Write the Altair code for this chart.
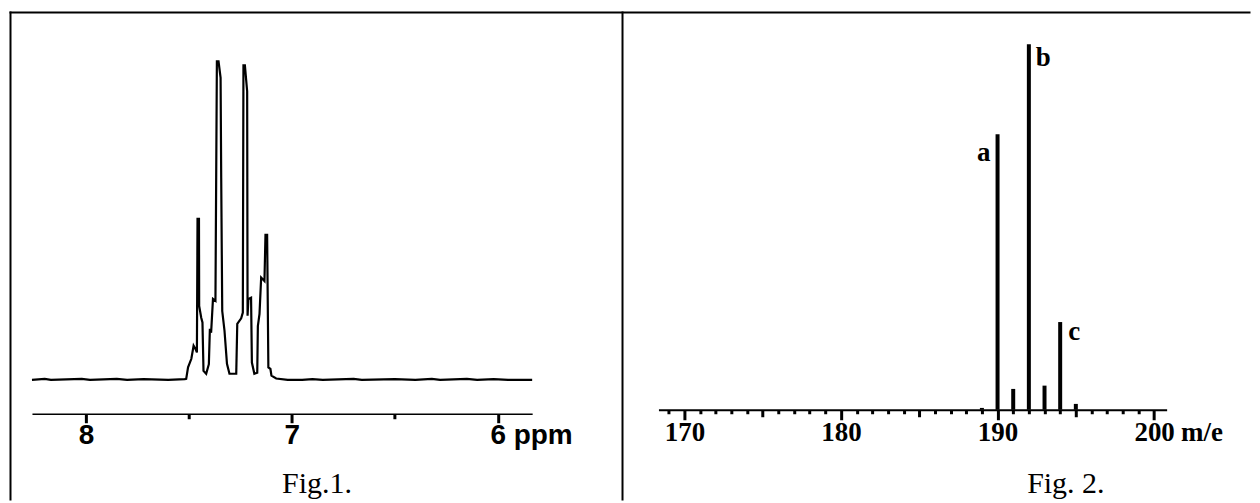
import altair as alt
import pandas as pd

# ---------------- Fig.1 : 1H NMR spectrum (ppm vs relative intensity) ----------------
nmr_ppm = [8.262, 8.20, 8.17, 8.02, 7.98, 7.85, 7.80, 7.72, 7.60, 7.52, 7.513,
           7.504, 7.488, 7.477, 7.468, 7.461, 7.458, 7.451, 7.450, 7.440, 7.434,
           7.429, 7.416, 7.403, 7.398, 7.392, 7.383, 7.371, 7.364, 7.356, 7.346,
           7.343, 7.338, 7.327, 7.315, 7.303, 7.270, 7.265, 7.246, 7.238, 7.235,
           7.228, 7.217, 7.215, 7.211, 7.198, 7.194, 7.182, 7.168, 7.165, 7.157,
           7.149, 7.133, 7.128, 7.120, 7.114, 7.104, 7.099, 7.076, 7.02,
           6.95, 6.90, 6.85, 6.70, 6.66, 6.50, 6.40, 6.32, 6.28, 6.15, 6.10,
           6.02, 5.95, 5.833]
nmr_int = [0.0, 0.3, 0.0, 0.3, 0.0, 0.3, 0.0, 0.2, 0.0, 0.2, 0.3,
           3.9, 6.6, 10.7, 9.7, 8.6, 50.5, 50.5, 23.2, 19.5, 18.0,
           2.8, 1.9, 4.9, 16.0, 14.8, 25.4, 24.8, 100.0, 100.0, 94.8,
           63.4, 21.6, 15.4, 5.0, 1.9, 1.9, 17.6, 19.3, 21.1, 98.7,
           98.7, 90.6, 20.1, 25.4, 25.8, 5.4, 1.9, 2.2, 16.9, 20.7,
           32.1, 31.0, 45.5, 45.5, 3.9, 3.4, 1.3, 0.4, 0.0,
           0.0, 0.2, 0.0, 0.3, 0.0, 0.2, 0.0, 0.3, 0.0, 0.3, 0.0,
           0.2, 0.0, 0.0]
nmr_tick_values = [8, 7.5, 7, 6.5, 6]
nmr_unit = ["ppm"]

# ---------------- Fig.2 : mass spectrum (m/e vs relative abundance) ----------------
ms_mz = [189, 190, 191, 192, 193, 194, 195]
ms_abund = [0.5, 75.4, 5.7, 100.0, 6.6, 24.0, 1.6]
ms_peak_names = ["a", "b", "c"]
ms_peak_mz = [190, 192, 194]
ms_peak_abund = [75.4, 100.0, 24.0]
ms_tick_values = [169, 170, 171, 172, 173, 174, 175, 176, 177, 178, 179, 180,
                  181, 182, 183, 184, 185, 186, 187, 188, 189, 190, 191, 192,
                  193, 194, 195, 196, 197, 198, 199, 200]
ms_unit = ["m/e"]

fig_titles = ["Fig.1.", "Fig. 2."]

# ---------------- layout constants ----------------
W1, H1 = 501, 373
W2, H2 = 509, 369
SANS = "Liberation Sans"
SERIF = "Liberation Serif"

one = pd.DataFrame({"k": [0]})

# ================= Panel 1 =================
nmr_df = pd.DataFrame({"i": list(range(len(nmr_ppm))), "ppm": nmr_ppm, "intensity": nmr_int})
x1 = alt.Scale(domain=[5.833, 8.262], reverse=True, nice=False, zero=False)
y1 = alt.Scale(domain=[-10.66, 106.27], nice=False, zero=False)

axis1 = alt.Axis(
    values=nmr_tick_values, title=None, grid=False,
    labelExpr="datum.value % 1 === 0 ? format(datum.value, 'd') : ''",
    tickSize={"condition": {"test": "datum.value % 1 === 0", "value": 9}, "value": 5},
    tickWidth=3, tickColor="black", domainColor="black", domainWidth=1.5,
    labelFont=SANS, labelFontWeight="bold", labelFontSize=28, labelColor="black",
    labelBaseline="top", labelPadding=-1, labelOverlap=False, labelFlush=False,
)

spec = alt.Chart(nmr_df).mark_line(color="black", strokeWidth=2.2).encode(
    x=alt.X("ppm:Q", scale=x1, axis=axis1),
    y=alt.Y("intensity:Q", scale=y1, axis=None),
    order=alt.Order("i:Q"),
)

unit1 = alt.Chart(pd.DataFrame({"ppm": [nmr_tick_values[-1]], "t": nmr_unit})).mark_text(
    align="left", baseline="top", dx=16, font=SANS, fontWeight="bold", fontSize=28, color="black"
).encode(x=alt.X("ppm:Q", scale=x1, axis=axis1), y=alt.value(H1 + 8), text="t:N")

title1 = alt.Chart(pd.DataFrame({"t": [fig_titles[0]]})).mark_text(
    align="center", baseline="alphabetic", font=SERIF, fontSize=30, color="black"
).encode(x=alt.value(285.5), y=alt.value(452), text="t:N")

frame_left = alt.Chart(one).mark_rule(color="black", strokeWidth=2).encode(
    x=alt.value(-21.5), y=alt.value(-30), y2=alt.value(460))
frame_top = alt.Chart(one).mark_rule(color="black", strokeWidth=2).encode(
    x=alt.value(-22.5), x2=alt.value(1220.5), y=alt.value(-29))
frame_mid = alt.Chart(one).mark_rule(color="black", strokeWidth=2).encode(
    x=alt.value(591.5), y=alt.value(-30), y2=alt.value(460))

panel1 = alt.layer(spec, unit1, title1, frame_left, frame_top, frame_mid).properties(
    width=W1, height=H1)

# ================= Panel 2 =================
ms_df = pd.DataFrame({"mz": ms_mz, "abund": ms_abund})
lab_df = pd.DataFrame({"mz": ms_peak_mz, "abund": ms_peak_abund, "name": ms_peak_names})
x2 = alt.Scale(domain=[168.34, 200.8], nice=False, zero=False)
y2 = alt.Scale(domain=[0, 100.82], nice=False, zero=False)

axis2 = alt.Axis(
    values=ms_tick_values, title=None, grid=False,
    labelExpr="datum.value % 10 === 0 ? datum.label : ''",
    tickSize={"condition": [{"test": "datum.value % 10 === 0", "value": 10},
                            {"test": "datum.value % 5 === 0", "value": 7}], "value": 4},
    tickWidth=3, tickColor="black", domainColor="black", domainWidth=2,
    labelFont=SERIF, labelFontWeight="bold", labelFontSize=27, labelColor="black",
    labelBaseline="top", labelPadding=0, labelOverlap=False, labelFlush=False,
)

bars = alt.Chart(ms_df).mark_rule(color="black", strokeWidth=4).encode(
    x=alt.X("mz:Q", scale=x2, axis=axis2),
    y=alt.Y("abund:Q", scale=y2, axis=None),
    y2=alt.datum(0),
)

def peak_label(name, align, dx, dy):
    return alt.Chart(lab_df).transform_filter(alt.datum.name == name).mark_text(
        align=align, baseline="alphabetic", dx=dx, dy=dy, font=SERIF, fontWeight="bold",
        fontSize=27, color="black"
    ).encode(x=alt.X("mz:Q", scale=x2, axis=axis2), y=alt.Y("abund:Q", scale=y2, axis=None),
             text="name:N")

lab_a = peak_label("a", "right", -7, 27)
lab_b = peak_label("b", "left", 7, 22)
lab_c = peak_label("c", "left", 8, 18)

unit2 = alt.Chart(pd.DataFrame({"mz": [ms_tick_values[-1]], "t": ms_unit})).mark_text(
    align="left", baseline="top", dx=27, font=SERIF, fontWeight="bold", fontSize=27, color="black"
).encode(x=alt.X("mz:Q", scale=x2, axis=axis2), y=alt.value(H2 + 10), text="t:N")

title2 = alt.Chart(pd.DataFrame({"t": [fig_titles[1]]})).mark_text(
    align="center", baseline="alphabetic", font=SERIF, fontSize=30, color="black"
).encode(x=alt.value(408), y=alt.value(452), text="t:N")

panel2 = alt.layer(bars, lab_a, lab_b, lab_c, unit2, title2).properties(width=W2, height=H2)

chart = alt.hconcat(panel1, panel2, spacing=126.5, bounds="flush").properties(
    padding={"left": 0, "top": 2, "right": 0, "bottom": 0},
    background="white",
).configure_view(stroke=None)

chart.save("out.html", embed_options={"renderer": "svg", "actions": False})
